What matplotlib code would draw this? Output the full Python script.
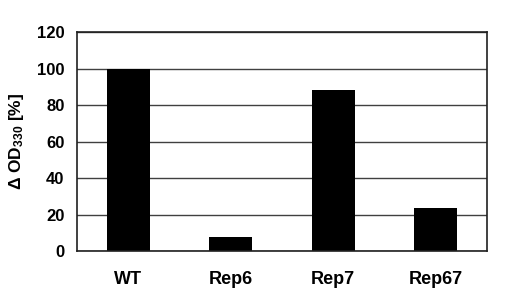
import matplotlib.pyplot as plt

plt.rcParams["font.family"] = ["Liberation Sans", "DejaVu Sans"]
plt.rcParams["font.weight"] = "bold"
plt.rcParams["mathtext.fontset"] = "custom"
plt.rcParams["mathtext.rm"] = "Liberation Sans:bold"
plt.rcParams["mathtext.bf"] = "Liberation Sans:bold"
plt.rcParams["mathtext.default"] = "bf"

strains = ["WT", "Rep6", "Rep7", "Rep67"]
delta_od = [100, 7.8, 88.2, 23.5]
y_ticks = [0, 20, 40, 60, 80, 100, 120]

fig = plt.figure(figsize=(5.06, 2.94), dpi=100)
ax = fig.add_axes([0.152, 0.146, 0.81, 0.745])

ax.set_axisbelow(True)
ax.yaxis.grid(True, color="#404040", linewidth=1)
ax.bar(range(len(strains)), delta_od, width=0.42, color="black")

ax.set_xlim(-0.5, len(strains) - 0.5)
ax.set_ylim(0, 120)
ax.set_yticks(y_ticks)
ax.set_xticks(range(len(strains)))
ax.set_xticklabels(strains, fontsize=13, fontweight="bold")
ax.set_yticklabels([str(t) for t in y_ticks], fontsize=12, fontweight="bold")
ax.tick_params(axis="both", length=0)
ax.tick_params(axis="x", pad=14)
ax.tick_params(axis="y", pad=9)

for s in ax.spines.values():
    s.set_color("#202020")
    s.set_linewidth(1.2)

ax.set_ylabel(r"Δ OD$_{330}$ [%]", fontsize=12.5, fontweight="bold", labelpad=8)

fig.savefig("out.png", dpi=100)
